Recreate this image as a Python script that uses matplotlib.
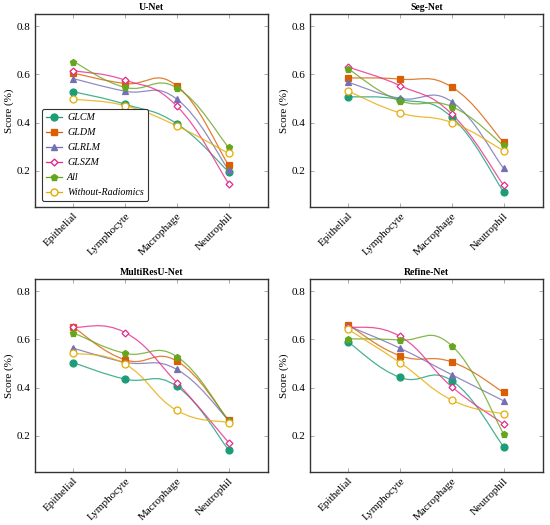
import numpy as np
import matplotlib
matplotlib.use('Agg')
import matplotlib.pyplot as plt
from matplotlib.path import Path
from matplotlib.patches import PathPatch

plt.rcParams['font.family'] = ['Liberation Serif', 'DejaVu Serif']

cells = ['Epithelial', 'Lymphocyte', 'Macrophage', 'Neutrophil']
methods = ['GLCM', 'GLDM', 'GLRLM', 'GLSZM', 'All', 'Without-Radiomics']
titles = ['U-Net', 'Seg-Net', 'MultiResU-Net', 'Refine-Net']

unet = [[0.528, 0.476, 0.395, 0.196],
        [0.605, 0.562, 0.552, 0.223],
        [0.582, 0.530, 0.497, 0.204],
        [0.615, 0.576, 0.468, 0.147],
        [0.653, 0.546, 0.544, 0.297],
        [0.497, 0.470, 0.386, 0.272]]
segnet = [[0.507, 0.495, 0.422, 0.113],
          [0.585, 0.580, 0.547, 0.318],
          [0.567, 0.500, 0.486, 0.210],
          [0.630, 0.553, 0.435, 0.140],
          [0.622, 0.490, 0.466, 0.305],
          [0.530, 0.440, 0.400, 0.283]]
multires = [[0.503, 0.435, 0.405, 0.142],
            [0.650, 0.515, 0.510, 0.265],
            [0.563, 0.505, 0.475, 0.265],
            [0.650, 0.628, 0.420, 0.172],
            [0.627, 0.542, 0.528, 0.262],
            [0.543, 0.497, 0.305, 0.255]]
refine = [[0.588, 0.442, 0.428, 0.155],
          [0.660, 0.532, 0.506, 0.380],
          [0.655, 0.563, 0.453, 0.345],
          [0.652, 0.612, 0.403, 0.249],
          [0.602, 0.597, 0.573, 0.208],
          [0.641, 0.503, 0.348, 0.290]]
all_data = [unet, segnet, multires, refine]

colors = ['#1b9e77', '#d95f02', '#7570b3', '#e7298a', '#66a61e', '#e6ab02']
markers = ['o', 's', '^', 'D', 'p', 'o']
filled = [True, True, True, False, True, False]
msizes = [5, 5, 4.5, 3.5, 4.5, 5]


def smooth_path(xs, ys, k=0.22):
    # cubic bezier through the points, like pgfplots "smooth"
    pts = np.column_stack([xs, ys]).astype(float)
    n = len(pts)
    verts = [pts[0]]
    codes = [Path.MOVETO]
    for i in range(n - 1):
        p0 = pts[max(i - 1, 0)]
        p1 = pts[i]
        p2 = pts[i + 1]
        p3 = pts[min(i + 2, n - 1)]
        c1 = p1 + k * (p2 - p0)
        c2 = p2 - k * (p3 - p1)
        verts += [c1, c2, p2]
        codes += [Path.CURVE4] * 3
    return Path(verts, codes)


fig = plt.figure(figsize=(5.5, 5.25), dpi=100)
W, H = 550, 525
boxes = [(35, 14), (310, 14), (35, 279), (310, 279)]
x = np.arange(len(cells))

for idx, (title, data) in enumerate(zip(titles, all_data)):
    left, top = boxes[idx]
    ax = fig.add_axes([left / W, 1 - (top + 193) / H, 233 / W, 193 / H])
    for j, m in enumerate(methods):
        path = smooth_path(x, data[j])
        ax.add_patch(PathPatch(path, facecolor='none', edgecolor=colors[j],
                               lw=0.9, alpha=0.8, zorder=2))
        ax.plot(x, data[j], linestyle='none', marker=markers[j],
                markersize=msizes[j], color=colors[j],
                markerfacecolor=colors[j] if filled[j] else 'white',
                markeredgewidth=0.9, zorder=3)
        ax.plot([], [], color=colors[j], lw=0.9, marker=markers[j],
                markersize=msizes[j],
                markerfacecolor=colors[j] if filled[j] else 'white',
                label=m)
    ax.set_xlim(-0.74, 3.76)
    ax.set_ylim(0.05, 0.85)
    ax.set_xticks(x)
    ax.set_xticklabels(cells, rotation=45, ha='right', rotation_mode='anchor',
                       fontsize=8)
    ax.set_yticks([0.2, 0.4, 0.6, 0.8])
    ax.set_yticklabels(['0.2', '0.4', '0.6', '0.8'], fontsize=8)
    ax.tick_params(direction='in', length=3, width=0.5, color='#888888',
                   top=True, right=True, pad=3)
    for s in ax.spines.values():
        s.set_linewidth(1.0)
        s.set_color('#333333')
    ax.set_ylabel('Score (%)', fontsize=8, labelpad=2)
    ax.set_title(title, fontsize=7, fontweight='bold', pad=3)
    if idx == 0:
        leg = ax.legend(loc='lower left', bbox_to_anchor=(0.03, 0.03),
                        prop={'style': 'italic', 'size': 7.2},
                        frameon=True, fancybox=True, handlelength=1.6,
                        labelspacing=0.6, borderpad=0.4, handletextpad=0.5,
                        borderaxespad=0)
        leg.get_frame().set_edgecolor('#333333')
        leg.get_frame().set_linewidth(0.8)
        leg.get_frame().set_alpha(1)

fig.savefig('out.png', dpi=100)
